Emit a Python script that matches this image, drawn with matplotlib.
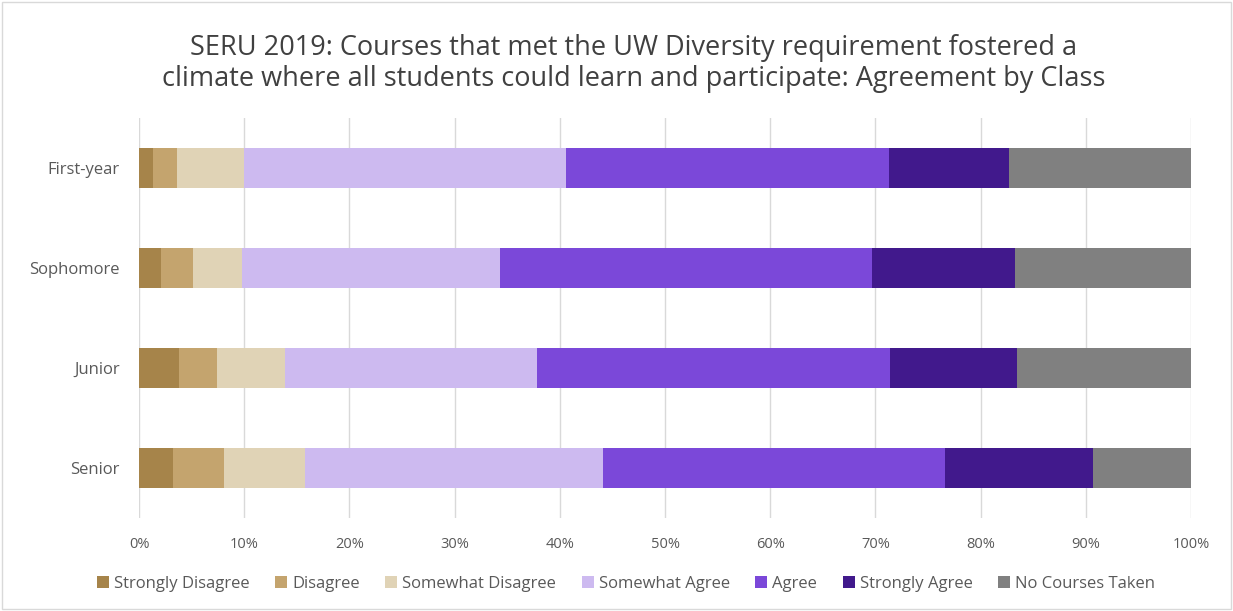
import matplotlib
matplotlib.use('Agg')
import matplotlib.pyplot as plt
import numpy as np
from matplotlib.ticker import PercentFormatter

# Data (percent of respondents)
classes = ['First-year', 'Sophomore', 'Junior', 'Senior']
responses = ['Strongly Disagree', 'Disagree', 'Somewhat Disagree', 'Somewhat Agree',
             'Agree', 'Strongly Agree', 'No Courses Taken']

strongly_disagree = [1.3, 2.1, 3.8, 3.2]
disagree = [2.3, 3.0, 3.6, 4.9]
somewhat_disagree = [6.4, 4.7, 6.5, 7.7]
somewhat_agree = [30.6, 24.5, 23.9, 28.3]
agree = [30.7, 35.4, 33.6, 32.5]
strongly_agree = [11.4, 13.6, 12.1, 14.1]
no_courses = [17.3, 16.7, 16.5, 9.3]

colors = ['#a6844a', '#c4a46e', '#e0d3b6', '#cdbaf0', '#7b48d9', '#41198c', '#808080']

series = [strongly_disagree, disagree, somewhat_disagree, somewhat_agree,
          agree, strongly_agree, no_courses]

plt.rcParams['font.family'] = ['Open Sans', 'DejaVu Sans']

fig = plt.figure(figsize=(12.33, 6.11), dpi=100)
ax = fig.add_axes([139 / 1233, 93 / 611, 1052 / 1233, 400 / 611])

y = np.arange(len(classes))
left = np.zeros(len(classes))
for name, vals, c in zip(responses, series, colors):
    ax.barh(y, vals, height=0.4, left=left, color=c, label=name, zorder=3)
    left += np.array(vals)

ax.set_xlim(0, 100)
ax.set_ylim(3.5, -0.5)
ax.set_yticks(y)
ax.set_yticklabels(classes)
ax.set_xticks(np.arange(0, 101, 10))
ax.xaxis.set_major_formatter(PercentFormatter(decimals=0))
ax.grid(axis='x', color='#d9d9d9', linewidth=1, zorder=0)
for s in ax.spines.values():
    s.set_visible(False)
ax.tick_params(length=0, colors='#595959', labelsize=10.5)
ax.tick_params(axis='y', labelsize=12, pad=14)
ax.tick_params(axis='x', pad=14)

fig.suptitle('SERU 2019: Courses that met the UW Diversity requirement fostered a\n'
             'climate where all students could learn and participate: Agreement by Class',
             x=0.514, y=0.945, fontsize=19.5, color='#404040', linespacing=1.15)

ax.legend(loc='center', bbox_to_anchor=(0.463, -0.165), ncol=7, frameon=False,
          fontsize=12, labelcolor='#595959', handlelength=0.7, handleheight=0.7,
          handletextpad=0.3, columnspacing=1.55)

fig.patches.append(plt.Rectangle((0.002, 0.003), 0.996, 0.994, transform=fig.transFigure,
                                 fill=False, edgecolor='#d9d9d9', linewidth=1))

plt.savefig('out.png', dpi=100)
